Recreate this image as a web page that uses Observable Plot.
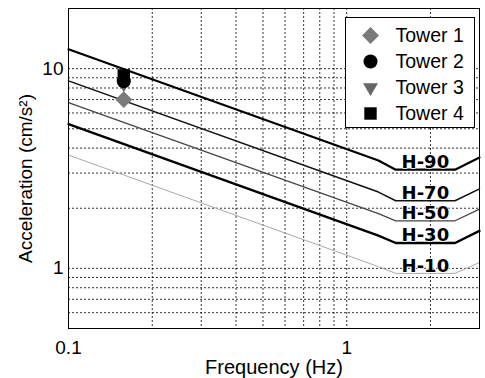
<!DOCTYPE html>
<html><head><meta charset="utf-8">
<script src="https://cdn.jsdelivr.net/npm/d3@7"></script>
<script src="https://cdn.jsdelivr.net/npm/@observablehq/plot@0.6"></script>
<style>
body{margin:0;background:#fff;}
#wrap{position:relative;width:485px;height:378px;}
#legend{position:absolute;left:345px;top:17px;width:130px;height:111px;border:1px solid #000;background:#fff;box-sizing:border-box;}
</style></head><body><div id="wrap"></div>
<script>
// ---- data ----
const curveNames = ["H-90", "H-70", "H-50", "H-30", "H-10"];
const curveFreq = [0.1, 1.3, 1.5, 2.45, 3.0];
const h90 = [12.5, 3.47, 3.12, 3.12, 3.59];
const h70 = [8.68, 2.41, 2.18, 2.18, 2.50];
const h50 = [6.76, 1.88, 1.73, 1.73, 1.98];
const h30 = [5.27, 1.46, 1.34, 1.34, 1.54];
const h10 = [3.69, 1.02, 0.944, 0.944, 1.07];
const curveValues = [h90, h70, h50, h30, h10];

const towerNames = ["Tower 1", "Tower 2", "Tower 3", "Tower 4"];
const towerFreq = [0.158, 0.158, 0.158, 0.158];
const towerAccel = [7.0, 8.65, 8.4, 9.25];

const xTicks = [0.1, 1];
const yTicks = [1, 10];
const xGrid = [0.2, 0.3, 0.4, 0.5, 0.6, 0.7, 0.8, 0.9, 1, 2];
const yGrid = [0.6, 0.7, 0.8, 0.9, 1, 2, 3, 4, 5, 6, 7, 8, 9, 10];

// ---- styles ----
const curveStyle = {
  "H-90": {stroke: "#000", strokeWidth: 2.2},
  "H-70": {stroke: "#111", strokeWidth: 1.5},
  "H-50": {stroke: "#444", strokeWidth: 1.2},
  "H-30": {stroke: "#000", strokeWidth: 2.4},
  "H-10": {stroke: "#aaa", strokeWidth: 1}
};
const towerStyle = {
  "Tower 1": {symbol: "diamond2", fill: "#7a7a7a", r: 7.6, rotate: 0},
  "Tower 2": {symbol: "circle", fill: "#000", r: 7, rotate: 0},
  "Tower 3": {symbol: "triangle", fill: "#666", r: 5.5, rotate: 180},
  "Tower 4": {symbol: "square", fill: "#000", r: 7, rotate: 0}
};
const drawOrder = ["Tower 1", "Tower 3", "Tower 2", "Tower 4"];

const curves = curveNames.map((name, i) => ({
  name,
  points: curveFreq.map((f, j) => ({f, v: curveValues[i][j]}))
}));
const labels = curves.map(c => ({
  name: c.name,
  f: Math.sqrt(c.points[2].f * c.points[3].f),
  v: c.points[2].v
}));
const towers = towerNames.map((name, i) => ({name, f: towerFreq[i], a: towerAccel[i]}));

const FONT = "'Liberation Sans', Arial, Helvetica, sans-serif";
const gridStyle = {stroke: "#000", strokeOpacity: 0.8, strokeWidth: 1, strokeDasharray: "2,2"};

const chart = Plot.plot({
  width: 485,
  height: 378,
  marginLeft: 68,
  marginRight: 6,
  marginTop: 8,
  marginBottom: 50,
  style: {fontFamily: FONT, fontSize: "19px", background: "#fff", color: "#000"},
  x: {type: "log", domain: [0.1, 3]},
  y: {type: "log", domain: [0.5, 20]},
  marks: [
    Plot.ruleX(xGrid, gridStyle),
    Plot.ruleY(yGrid, gridStyle),
    ...curves.map(c => Plot.line(c.points, {x: "f", y: "v", ...curveStyle[c.name]})),
    Plot.text(labels, {
      x: "f", y: "v", text: "name",
      fontFamily: "'DejaVu Sans', sans-serif", fontWeight: "bold", fontSize: 18,
      lineAnchor: "bottom", dy: -1.5, fill: "#000", stroke: "#fff", strokeWidth: 1.5
    }),
    ...drawOrder.map(n => {
      const s = towerStyle[n];
      return Plot.dot(towers.filter(t => t.name === n), {
        x: "f", y: "a", symbol: s.symbol, fill: s.fill, r: s.r, rotate: s.rotate, stroke: "none"
      });
    }),
    Plot.frame({stroke: "#000", strokeWidth: 1}),
    Plot.axisX({ticks: xTicks, tickSize: 0, tickPadding: 12, tickFormat: d => String(d), label: null}),
    Plot.axisY({ticks: yTicks, tickSize: 0, tickPadding: 5, tickFormat: d => String(d), label: null}),
    Plot.text(["Frequency (Hz)"], {text: d => d, frameAnchor: "bottom", textAnchor: "middle", dy: 39, lineAnchor: "middle", fontSize: 20}),
    Plot.text(["Acceleration (cm/s²)"], {text: d => d, frameAnchor: "left", textAnchor: "middle", rotate: -90, dx: -43, dy: 10, lineAnchor: "middle", fontSize: 19})
  ]
});

const wrap = document.getElementById("wrap");
wrap.appendChild(chart);

const legendDiv = document.createElement("div");
legendDiv.id = "legend";
const legend = Plot.plot({
  width: 128,
  height: 109,
  marginLeft: 0, marginRight: 0, marginTop: 2, marginBottom: 0,
  style: {fontFamily: FONT, fontSize: "19.5px", background: "#fff", color: "#000"},
  y: {type: "point", domain: towerNames, axis: null},
  marks: [
    ...towerNames.map(n => {
      const s = towerStyle[n];
      return Plot.dot(towers.filter(t => t.name === n), {
        y: "name", frameAnchor: "left", dx: 24, symbol: s.symbol, fill: s.fill, r: s.r, rotate: s.rotate, stroke: "none"
      });
    }),
    Plot.text(towers, {y: "name", text: "name", frameAnchor: "left", dx: 49, textAnchor: "start", fill: "#000", fontSize: 19.5})
  ]
});
legendDiv.appendChild(legend);
wrap.appendChild(legendDiv);
</script></body></html>
